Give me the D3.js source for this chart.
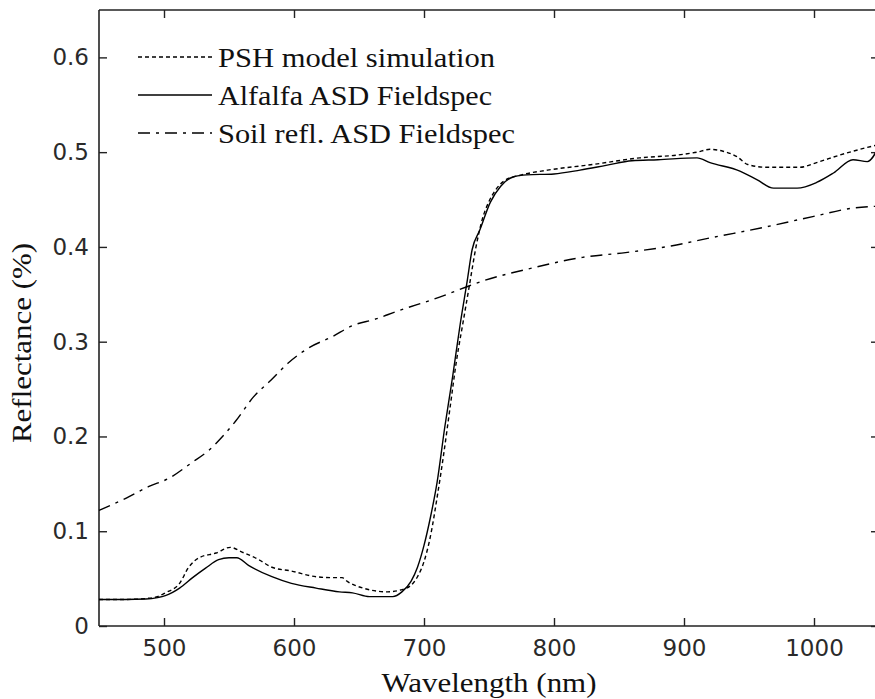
<!DOCTYPE html>
<html><head><meta charset="utf-8">
<script src="https://cdn.jsdelivr.net/npm/d3@7"></script>
<style>body{margin:0;background:#fff;} svg{display:block;}</style>
</head><body>
<svg id="chart" width="875" height="699"></svg>
<script>
// ---- data ----
const xTicks = [500, 600, 700, 800, 900, 1000];
const yTicks = [0, 0.1, 0.2, 0.3, 0.4, 0.5, 0.6];
const legendLabels = ["PSH model simulation", "Alfalfa ASD Fieldspec", "Soil refl. ASD Fieldspec"];

const pshWl   = [450,470,486,495,501,512,519,527,540,551,560,573,583,598,617,630,637,641,653,672,682,690,695,700,705,710,715,720,725,730,735,740,745,750,755,762,775,795,830,866,895,910,920,930,941,949,964,989,1002,1020,1041,1050];
const pshRefl = [0.028,0.028,0.029,0.031,0.035,0.045,0.062,0.072,0.077,0.083,0.078,0.070,0.062,0.058,0.052,0.051,0.051,0.047,0.040,0.036,0.038,0.043,0.052,0.068,0.095,0.135,0.180,0.230,0.280,0.320,0.360,0.400,0.430,0.448,0.460,0.470,0.476,0.481,0.487,0.494,0.497,0.500,0.503,0.501,0.495,0.487,0.484,0.484,0.489,0.497,0.505,0.508];

const alfWl   = [450,470,486,495,501,512,522,532,542,550,556,565,583,598,617,635,645,658,676,683,690,695,700,705,710,716,722,728,733,737,743,751,759,769,779,800,820,840,860,880,910,920,943,956,969,987,1002,1015,1030,1041,1050];
const alfRefl = [0.028,0.028,0.0285,0.030,0.032,0.040,0.051,0.061,0.070,0.072,0.072,0.064,0.052,0.045,0.040,0.036,0.035,0.031,0.031,0.036,0.047,0.062,0.085,0.115,0.151,0.210,0.263,0.320,0.362,0.397,0.418,0.447,0.464,0.474,0.476,0.477,0.481,0.486,0.491,0.492,0.494,0.489,0.480,0.471,0.462,0.462,0.468,0.478,0.492,0.490,0.506];

const soilWl   = [450,471,488,504,521,535,545,555,569,582,596,612,629,645,663,679,712,733,743,784,822,855,890,922,959,999,1030,1050];
const soilRefl = [0.122,0.135,0.147,0.156,0.172,0.186,0.200,0.216,0.242,0.259,0.278,0.294,0.305,0.317,0.324,0.332,0.347,0.358,0.363,0.378,0.389,0.394,0.401,0.410,0.420,0.432,0.441,0.443];

// ---- layout ----
const svg = d3.select("#chart");
const L = 99, R = 879, T = 10, B = 626;
const x = d3.scaleLinear().domain([450, 1050]).range([L, R]);
const y = d3.scaleLinear().domain([0, 0.65]).range([B, T]);
const axisColor = "#222";
const serif = "'Liberation Serif', 'DejaVu Serif', serif";
const sans = "'DejaVu Sans', sans-serif";

// axes
const tickLen = 8;
const gx = svg.append("g").attr("transform", `translate(0,${B})`)
  .call(d3.axisBottom(x).tickValues(xTicks).tickSize(-tickLen).tickPadding(14).tickFormat(d3.format("d")));
const gxTop = svg.append("g").attr("transform", `translate(0,${T})`)
  .call(d3.axisTop(x).tickValues(xTicks).tickSize(-tickLen).tickFormat(""));
const gy = svg.append("g").attr("transform", `translate(${L},0)`)
  .call(d3.axisLeft(y).tickValues(yTicks).tickSize(-tickLen).tickPadding(10).tickFormat(d => d === 0 ? "0" : d3.format(".1f")(d)));
const gyR = svg.append("g").attr("transform", `translate(${R},0)`)
  .call(d3.axisRight(y).tickValues(yTicks).tickSize(-tickLen).tickFormat(""));
[gx, gxTop, gy, gyR].forEach(g => {
  g.selectAll(".domain").attr("stroke", axisColor).attr("stroke-width", 1.6);
  g.selectAll(".tick line").attr("stroke", axisColor).attr("stroke-width", 1.4);
  g.selectAll(".tick text").attr("font-family", sans).attr("font-size", 23).attr("fill", "#2a2a2a");
});
gx.selectAll(".domain").attr("d", `M${L},0H${R}`);
gxTop.selectAll(".domain").attr("d", `M${L},0H${R}`);
gy.selectAll(".domain").attr("d", `M0,${B}V${T}`);
gyR.selectAll(".domain").attr("d", `M0,${B}V${T}`);

// lines
const line = d3.line().x(d => x(d[0])).y(d => y(d[1])).curve(d3.curveMonotoneX);
const zip = (a, b) => a.map((v, i) => [v, b[i]]);
const styles = [
  {data: zip(pshWl, pshRefl), dash: "4,3"},
  {data: zip(alfWl, alfRefl), dash: null},
  {data: zip(soilWl, soilRefl), dash: "12,6,3,6"}
];
const plot = svg.append("g");
styles.forEach(s => {
  plot.append("path").datum(s.data).attr("d", line)
    .attr("fill", "none").attr("stroke", "#000").attr("stroke-width", 1.4)
    .attr("stroke-dasharray", s.dash);
});

// legend
const legRows = [57, 95, 133];
const legWidths = [277, 274, 297];
legendLabels.forEach((lab, i) => {
  svg.append("line").attr("x1", 138).attr("x2", 212).attr("y1", legRows[i]).attr("y2", legRows[i])
    .attr("stroke", "#000").attr("stroke-width", 1.4).attr("stroke-dasharray", styles[i].dash);
  svg.append("text").attr("x", 218).attr("y", legRows[i] + 10).text(lab)
    .attr("font-family", serif).attr("font-size", 27).attr("fill", "#111")
    .attr("textLength", legWidths[i]).attr("lengthAdjust", "spacingAndGlyphs");
});

// axis titles
svg.append("text").attr("x", (L + R) / 2).attr("y", 692).attr("text-anchor", "middle")
  .text("Wavelength (nm)").attr("font-family", serif).attr("font-size", 27).attr("fill", "#111")
  .attr("textLength", 215).attr("lengthAdjust", "spacingAndGlyphs");
svg.append("text").attr("transform", `translate(31,343) rotate(-90)`).attr("text-anchor", "middle")
  .text("Reflectance (%)").attr("font-family", serif).attr("font-size", 27).attr("fill", "#111")
  .attr("textLength", 200).attr("lengthAdjust", "spacingAndGlyphs");
</script>
</body></html>
